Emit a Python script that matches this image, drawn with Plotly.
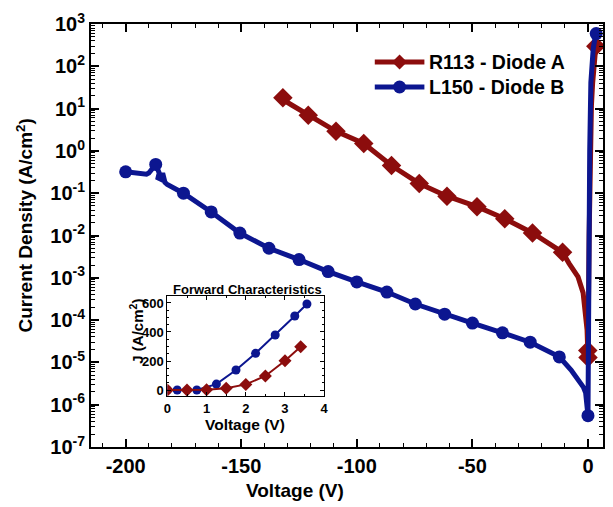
import plotly.graph_objects as go

# ---------------- data ----------------
# Diode A (R113): reverse + forward, log-scale main plot
red_v = [-132, -130, -128, -121, -109, -97, -85, -73, -61, -48, -36, -24, -11,
         -8.2, -4.3, -2.1, -1.3, -0.4, -0.1, 0.0, 0.5, 1.0, 1.5, 2.0, 2.5, 3.0, 3.4]
red_j = [18, 14, 12, 7.0, 2.9, 1.5, 0.45, 0.17, 0.085, 0.048, 0.025, 0.0115, 0.004,
         2.2e-3, 1.05e-3, 4.4e-4, 1.5e-4, 5.9e-5, 1.9e-5, 1.3e-5, 0.01, 2, 12, 39, 97, 202, 299]
red_mark = [1, 0, 0, 1, 1, 1, 1, 1, 1, 1, 1, 1, 1,
            0, 0, 0, 0, 0, 1, 1, 0, 0, 0, 0, 0, 0, 1]

# Diode B (L150)
blue_v = [-200, -195, -191, -190, -187, -185.5, -186, -184.5, -184, -183, -182, -175,
          -163, -150.6, -138, -125, -112.4, -100, -87, -74.7, -62, -50, -37, -25, -12.4,
          -7.3, -2.0, -1.0, 0.0, 0.25, 0.75, 1.25, 1.75, 2.25, 2.75, 3.25, 3.56]
blue_j = [0.32, 0.30, 0.28, 0.30, 0.48, 0.30, 0.23, 0.21, 0.30, 0.18, 0.16, 0.10,
          0.036, 0.0114, 0.005, 0.0027, 0.0014, 0.0008, 0.00046, 0.00024, 0.000138, 8.5e-5, 5.0e-5, 3.0e-5, 1.35e-5,
          6.6e-6, 2.6e-6, 1.9e-6, 5.5e-7, 0.001, 1.0, 41, 138, 253, 379, 510, 593]
blue_mark = [1, 0, 0, 0, 1, 0, 0, 0, 0, 0, 0, 1,
             1, 1, 1, 1, 1, 1, 1, 1, 1, 1, 1, 1, 1,
             0, 0, 0, 1, 0, 0, 0, 0, 0, 0, 0, 1]

# Inset: forward characteristics (linear)
in_red_v = [0, 0.5, 1.0, 1.5, 2.0, 2.5, 3.0, 3.4]
in_red_j = [0, 0, 2, 12, 39, 97, 202, 299]
in_blue_v = [0, 0.25, 0.75, 1.25, 1.75, 2.25, 2.75, 3.25, 3.56]
in_blue_j = [0, 0, 0, 41, 138, 253, 379, 510, 593]

series_names = ["R113 - Diode A", "L150 - Diode B"]
x_ticks = [-200, -150, -100, -50, 0]
y_exps = [-7, -6, -5, -4, -3, -2, -1, 0, 1, 2, 3]
in_x_ticks = [0, 1, 2, 3, 4]
in_y_ticks = [0, 200, 400, 600]

# ---------------- style ----------------
RED = "#8c0d0d"
BLUE = "#0c1690"
FONT = "Liberation Sans"

W, H = 613, 507
ML, MR, MT, MB = 91, 6, 24, 60
PW, PH = W - ML - MR, H - MT - MB


def px(xp):
    return (xp - ML) / PW


def py(yp):
    return (H - MB - yp) / PH


fig = go.Figure()


def add_series(v, j, mark, color, symbol, msize):
    fig.add_trace(go.Scatter(x=v, y=j, mode="lines", line=dict(color=color, width=5),
                             showlegend=False, hoverinfo="skip"))
    mv = [a for a, m in zip(v, mark) if m]
    mj = [b for b, m in zip(j, mark) if m]
    fig.add_trace(go.Scatter(x=mv, y=mj, mode="markers",
                             marker=dict(color=color, symbol=symbol, size=msize, line=dict(width=0)),
                             showlegend=False))


add_series(red_v, red_j, red_mark, RED, "diamond", 15)
add_series(blue_v, blue_j, blue_mark, BLUE, "circle", 13)

# inset traces
fig.add_trace(go.Scatter(x=in_blue_v, y=in_blue_j, mode="lines+markers", xaxis="x2", yaxis="y2",
                         line=dict(color=BLUE, width=2), marker=dict(color=BLUE, size=9, symbol="circle"),
                         showlegend=False))
fig.add_trace(go.Scatter(x=in_red_v, y=in_red_j, mode="lines+markers", xaxis="x2", yaxis="y2",
                         line=dict(color=RED, width=2), marker=dict(color=RED, size=10, symbol="diamond"),
                         showlegend=False))

minor_x = [v for v in range(-210, 6, 10) if v % 50 != 0]
minor_y = [m * 10 ** e for e in range(-7, 3) for m in range(2, 10)]

fig.update_layout(
    width=W, height=H,
    margin=dict(l=ML, r=MR, t=MT, b=MB),
    paper_bgcolor="white", plot_bgcolor="white",
    font=dict(family=FONT, color="black"),
    showlegend=False,
    xaxis=dict(
        range=[-215, 6.5], tickmode="array", tickvals=x_ticks,
        ticktext=[str(t) for t in x_ticks],
        ticks="inside", ticklen=8, tickwidth=1.5, tickcolor="black",
        showline=True, linecolor="black", linewidth=2, mirror="ticks",
        showgrid=False, zeroline=False,
        tickfont=dict(size=20, family=FONT, weight="bold"),
        minor=dict(tickmode="array", tickvals=minor_x, ticks="inside", ticklen=4,
                   tickwidth=1, tickcolor="black", showgrid=False),
    ),
    yaxis=dict(
        type="log", range=[-7, 3], tickmode="array",
        tickvals=[10.0 ** e for e in y_exps],
        ticktext=["10<sup>%d</sup>" % e for e in y_exps],
        ticks="inside", ticklen=8, tickwidth=1.5, tickcolor="black",
        showline=True, linecolor="black", linewidth=2, mirror="ticks",
        showgrid=False, zeroline=False,
        tickfont=dict(size=20, family=FONT, weight="bold"),
        minor=dict(tickmode="array", tickvals=minor_y, ticks="inside", ticklen=4,
                   tickwidth=1, tickcolor="black", showgrid=False),
    ),
    xaxis2=dict(
        domain=[px(168), px(326)], anchor="y2", range=[0, 4],
        tickmode="array", tickvals=in_x_ticks, ticktext=[str(t) for t in in_x_ticks],
        ticks="inside", ticklen=4, tickcolor="black",
        showline=True, linecolor="black", linewidth=1, mirror="ticks",
        showgrid=False, zeroline=False,
        tickfont=dict(size=13, family=FONT, weight="bold"),
        minor=dict(dtick=0.5, ticks="inside", ticklen=2, tickcolor="black", showgrid=False),
    ),
    yaxis2=dict(
        domain=[py(396), py(296)], anchor="x2", range=[-41, 648],
        tickmode="array", tickvals=in_y_ticks, ticktext=[str(t) for t in in_y_ticks],
        ticks="inside", ticklen=4, tickcolor="black",
        showline=True, linecolor="black", linewidth=1, mirror="ticks",
        showgrid=False, zeroline=False,
        tickfont=dict(size=13, family=FONT, weight="bold"),
        minor=dict(dtick=50, ticks="inside", ticklen=2, tickcolor="black", showgrid=False),
    ),
)

ann = []
# main axis titles
ann.append(dict(text="<b>Voltage (V)</b>", x=px(297), y=py(490), xref="paper", yref="paper",
                showarrow=False, font=dict(size=19, family=FONT), xanchor="center", yanchor="middle"))
ann.append(dict(text="<b>Current Density (A/cm<sup>2</sup>)</b>", x=px(24), y=py(226), xref="paper", yref="paper",
                showarrow=False, textangle=-90, font=dict(size=19, family=FONT), xanchor="center", yanchor="middle"))
# inset titles
ann.append(dict(text="<b>Forward Characteristics</b>", x=px(249), y=py(289), xref="paper", yref="paper",
                showarrow=False, font=dict(size=13, family=FONT), xanchor="center", yanchor="middle"))
ann.append(dict(text="<b>Voltage (V)</b>", x=px(246), y=py(424), xref="paper", yref="paper",
                showarrow=False, font=dict(size=15.5, family=FONT), xanchor="center", yanchor="middle"))
ann.append(dict(text="<b>J (A/cm<sup>2</sup>)</b>", x=px(136), y=py(331), xref="paper", yref="paper",
                showarrow=False, textangle=-90, font=dict(size=15, family=FONT), xanchor="center", yanchor="middle"))

# manual legend
shapes = []
leg = [(series_names[0], RED, 62, "diamond"), (series_names[1], BLUE, 87, "circle")]
for name, col, yp, sym in leg:
    shapes.append(dict(type="line", xref="paper", yref="paper", x0=px(377), x1=px(427), y0=py(yp), y1=py(yp),
                       line=dict(color=col, width=5)))
    if sym == "circle":
        shapes.append(dict(type="circle", xref="paper", yref="paper", xsizemode="pixel", ysizemode="pixel",
                           xanchor=px(402), yanchor=py(yp), x0=-6.5, x1=6.5, y0=-6.5, y1=6.5,
                           fillcolor=col, line=dict(width=0)))
    else:
        shapes.append(dict(type="path", xref="paper", yref="paper", xsizemode="pixel", ysizemode="pixel",
                           xanchor=px(402), yanchor=py(yp), path="M-7.5,0 L0,7.5 L7.5,0 L0,-7.5 Z",
                           fillcolor=col, line=dict(width=0)))
    ann.append(dict(text="<b>%s</b>" % name, x=px(430), y=py(yp), xref="paper", yref="paper",
                    showarrow=False, font=dict(size=19.5, family=FONT), xanchor="left", yanchor="middle"))

fig.update_layout(annotations=ann, shapes=shapes)
fig.write_html("out.html")
